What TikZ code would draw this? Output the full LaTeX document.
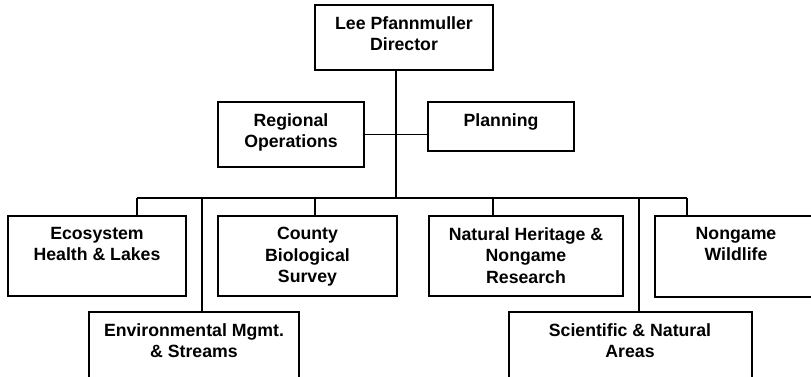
\documentclass[tikz,border=0pt]{standalone}
\usepackage{fontspec}
\setmainfont{Liberation Sans}
\begin{document}
\begin{tikzpicture}[x=1pt,y=-1pt,
  box/.style={draw,line width=1.1pt,inner sep=0pt,outer sep=0pt,anchor=north west},
  lbl/.style={font=\fontsize{17.7}{21.5}\selectfont\bfseries,align=center,inner sep=0pt,anchor=north},
  conn/.style={line width=1.1pt}]
\useasboundingbox (0,0) rectangle (811,376);
\clip (0,0) rectangle (811,376);
% boxes
\node[box,minimum width=178pt,minimum height=65pt] (dir) at (315,5) {};
\node[box,minimum width=146pt,minimum height=65pt] (reg) at (218,102) {};
\node[box,minimum width=146pt,minimum height=49pt] (plan) at (428,102) {};
\node[box,minimum width=178pt,minimum height=80pt] (eco) at (8,216) {};
\node[box,minimum width=179pt,minimum height=80pt] (cty) at (218,216) {};
\node[box,minimum width=194pt,minimum height=80pt] (nat) at (429,216) {};
\node[box,minimum width=162pt,minimum height=81pt] (nong) at (655,216) {};
\node[box,minimum width=210pt,minimum height=90pt] (env) at (89,312) {};
\node[box,minimum width=243pt,minimum height=90pt] (sci) at (509,312) {};
% labels
\node[lbl] (tdir) at (404,16) {Lee Pfannmuller\\Director};
\node[lbl] (treg) at (291,113) {Regional\\Operations};
\node[lbl] (tplan) at (501,113) {Planning};
\node[lbl] (teco) at (97,227) {Ecosystem\\Health \& Lakes};
\node[lbl] (tcty) at (307.5,227) {County\\Biological\\Survey};
\node[lbl] (tnat) at (526,227) {Natural Heritage \&\\Nongame\\Research};
\node[lbl] (tnong) at (736,227) {Nongame\\Wildlife};
\node[lbl] (tenv) at (194,323) {Environmental Mgmt.\\\& Streams};
\node[lbl] (tsci) at (630,323) {Scientific \& Natural\\Areas};
% connectors
\coordinate (bus) at (396,198);
\coordinate (busL) at (137,198);
\coordinate (busR) at (687,198);
\coordinate (dEnv) at (202,198);
\coordinate (dCty) at (315,198);
\coordinate (dNat) at (493,198);
\coordinate (dSci) at (639,198);
\draw[conn] (dir.south -| bus) -- (bus);
\draw[conn] (reg.east) -- (plan.west |- reg.east);
\draw[conn] (busL) -- (busR);
\draw[conn] (busL) -- (eco.north -| busL);
\draw[conn] (dEnv) -- (env.north -| dEnv);
\draw[conn] (dCty) -- (cty.north -| dCty);
\draw[conn] (dNat) -- (nat.north -| dNat);
\draw[conn] (dSci) -- (sci.north -| dSci);
\draw[conn] (busR) -- (nong.north -| busR);
\end{tikzpicture}
\end{document}
